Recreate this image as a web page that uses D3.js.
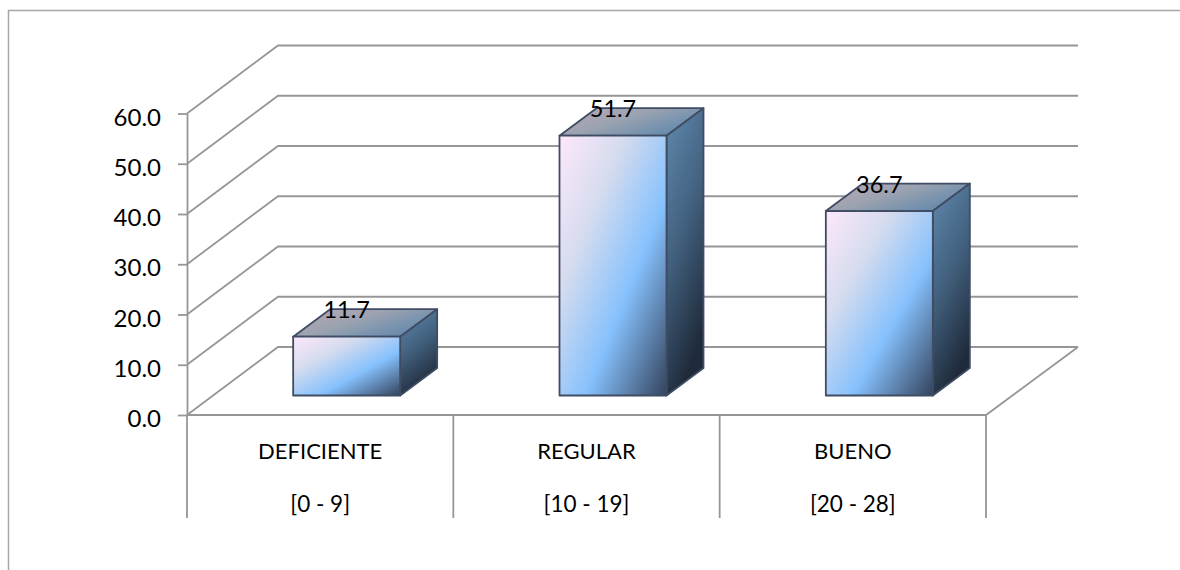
<!DOCTYPE html>
<html>
<head>
<meta charset="utf-8">
<script src="https://cdn.jsdelivr.net/npm/d3@7/dist/d3.min.js"></script>
<style>
html,body{margin:0;padding:0;background:#fff;}
svg{display:block;}
text{font-family:Lato,"Open Sans",sans-serif;fill:#000;}
</style>
</head>
<body>
<svg id="chart" width="1180" height="570"></svg>
<script>
// Survey result levels and their percentage share
const levels = ["DEFICIENTE", "REGULAR", "BUENO"];
const ranges = ["[0 - 9]", "[10 - 19]", "[20 - 28]"];
const percents = [11.7, 51.7, 36.7];
const axisTicks = [0, 10, 20, 30, 40, 50, 60];

const svg = d3.select("#chart");
const gridColor = "#969696";
const edgeColor = "#3f4c64";

const x = d3.scaleBand().domain(levels).range([187, 986]);
const y = d3.scaleLinear().domain([0, 60]).range([415, 113.5]);
const depth = {dx: 91, dy: -68};          // back wall offset of the chart box
const barDepth = {dx: 37, dy: -27.5};     // depth of each column
const barLift = 19.5;                     // columns stand slightly forward on the floor
const barWidth = 107;
const barShift = 26.5;                    // front face sits right of the band centre

const defs = svg.append("defs");
function gradient(id, x1, y1, x2, y2, stops) {
  const g = defs.append("linearGradient").attr("id", id)
    .attr("x1", x1).attr("y1", y1).attr("x2", x2).attr("y2", y2);
  stops.forEach(s => g.append("stop").attr("offset", s[0]).attr("stop-color", s[1]));
}
// Each face is shaded relative to its own bounding box
gradient("faceFront", 0, 0, 1, 1, [[0, "#fde8fb"], [0.3, "#d6dcee"], [0.62, "#86c1fd"], [1, "#34435c"]]);
gradient("faceTop", 0, 0, 1, 0.6, [[0, "#c0a9b8"], [0.5, "#9aa2b0"], [1, "#6389ad"]]);
gradient("faceSide", 0, 0, 0.35, 1, [[0, "#6089ae"], [0.5, "#436280"], [1, "#1f2b3b"]]);

// Outer chart frame (top and left edges only)
svg.append("path").attr("d", "M8.5,570V10.5H1180")
  .attr("fill", "none").attr("stroke", "#a6a6a6").attr("stroke-width", 1.5);

// Gridlines: diagonal on the side wall, horizontal on the back wall
const grid = svg.append("g").attr("fill", "none").attr("stroke", gridColor).attr("stroke-width", 1.8);
grid.selectAll("path.wall").data(axisTicks).join("path").attr("class", "wall")
  .attr("d", t => d3.line()([
    [x.range()[0], y(t)],
    [x.range()[0] + depth.dx, y(t) + depth.dy],
    [x.range()[1] + depth.dx + 1, y(t) + depth.dy]
  ]));
// Floor front and right edges
grid.append("path").attr("d", d3.line()([
  [x.range()[0], y(0)],
  [x.range()[1], y(0)],
  [x.range()[1] + depth.dx + 1, y(0) + depth.dy]
]));

// Value axis with outward ticks
const axis = svg.append("g").attr("transform", `translate(${x.range()[0]},0)`)
  .call(d3.axisLeft(y).tickValues(axisTicks).tickFormat(d3.format(".1f")).tickSize(9).tickPadding(17).tickSizeOuter(0));
axis.selectAll("path,line").attr("stroke", gridColor).attr("stroke-width", 1.8);
axis.selectAll("text").attr("dy", "11.5px").style("font-size", "24px").style("font-family", "Lato");

// Category separators below the floor
const separators = [...levels.map(l => x(l)), x.range()[1]];
svg.append("g").selectAll("line").data(separators).join("line")
  .attr("x1", d => d).attr("x2", d => d).attr("y1", y(0)).attr("y2", 518)
  .attr("stroke", gridColor).attr("stroke-width", 1.8);

// Two-line category labels
svg.append("g").selectAll("text").data(levels).join("text")
  .attr("x", d => x(d) + x.bandwidth() / 2).attr("y", 459)
  .attr("text-anchor", "middle").style("font-size", "22px").text(d => d);
svg.append("g").selectAll("text").data(ranges).join("text")
  .attr("x", (d, i) => x(levels[i]) + x.bandwidth() / 2).attr("y", 512)
  .attr("text-anchor", "middle").style("font-size", "22.5px").text(d => d);

// Columns
percents.forEach((v, i) => {
  const left = x(levels[i]) + (x.bandwidth() - barWidth) / 2 + barShift;
  const right = left + barWidth;
  const bottom = y(0) - barLift;
  const top = y(v) - barLift;

  const col = svg.append("g").attr("stroke", edgeColor).attr("stroke-width", 1.8).attr("stroke-linejoin", "round");
  col.append("path").attr("fill", "url(#faceTop)").attr("d", d3.line()([
    [left, top], [left + barDepth.dx, top + barDepth.dy],
    [right + barDepth.dx, top + barDepth.dy], [right, top]
  ]) + "Z");
  col.append("path").attr("fill", "url(#faceSide)").attr("d", d3.line()([
    [right, top], [right + barDepth.dx, top + barDepth.dy],
    [right + barDepth.dx, bottom + barDepth.dy], [right, bottom]
  ]) + "Z");
  col.append("rect").attr("fill", "url(#faceFront)")
    .attr("x", left).attr("y", top).attr("width", barWidth).attr("height", bottom - top);

  svg.append("text").attr("x", left + barWidth / 2).attr("y", top - 18.5)
    .attr("text-anchor", "middle").style("font-size", "23.5px").text(d3.format(".1f")(v));
});
</script>
</body>
</html>
